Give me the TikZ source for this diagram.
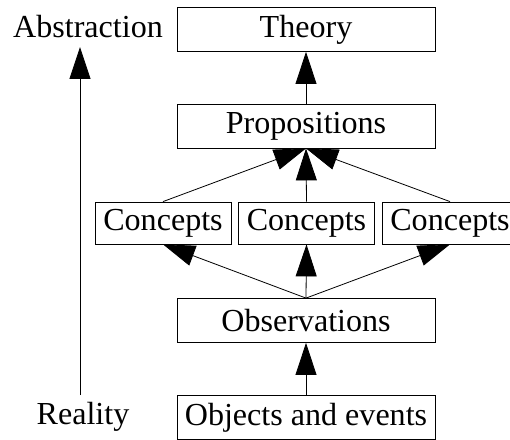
\documentclass[tikz,border=0pt]{standalone}
\usepackage{fontspec}
\setmainfont{Liberation Serif}
\usetikzlibrary{arrows.meta}
\begin{document}
\begin{tikzpicture}[x=1bp,y=-1bp,
  every node/.style={font=\fontsize{32.2}{36}\selectfont},
  box/.style={draw, line width=0.8bp, inner sep=0pt, minimum width=258bp, minimum height=44bp},
  cbox/.style={draw, line width=0.8bp, inner sep=0pt, minimum width=136bp, minimum height=42bp},
  flow/.style={line width=0.8bp, -{Triangle[length=32bp,width=21bp]}}]
\useasboundingbox (0,0) rectangle (510,440);

% levels of the hierarchy
\node[box] (theory) at (306,29.5) {Theory};
\node[box] (props) at (306,126) {Propositions};
\node[cbox] (c1) at (163,223) {Concepts};
\node[cbox] (c2) at (306.5,223) {Concepts};
\node[cbox] (c3) at (450,223) {Concepts};
\node[box] (obs) at (306,320.5) {Observations};
\node[box] (obj) at (306,417.5) {Objects and events};

% side scale
\node (abs) at (88,27) {Abstraction};
\node (real) at (83,417) {Reality};
\coordinate (low) at (80,395);
\coordinate (high) at (80,47);
\draw[flow] (low) -- (high);

% upward connections
\draw[flow] (props.north) -- (theory.south);
\draw[flow] (c1.north) -- (props.south);
\draw[flow] (c2.north) -- (props.south);
\draw[flow] (c3.north) -- (props.south);
\draw[flow] (obs.north) -- (c1.south);
\draw[flow] (obs.north) -- (c2.south);
\draw[flow] (obs.north) -- (c3.south);
\draw[flow] (obj.north) -- (obs.south);
\end{tikzpicture}
\end{document}
